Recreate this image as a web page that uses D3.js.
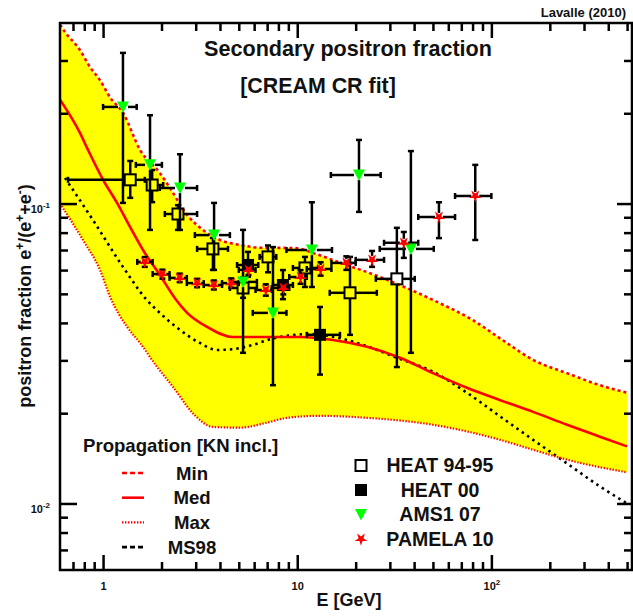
<!DOCTYPE html>
<html>
<head>
<meta charset="utf-8">
<script src="https://cdn.jsdelivr.net/npm/d3@7"></script>
<style>
  body { margin: 0; background: #fff; }
  text { font-family: "Liberation Sans", Arial, sans-serif; font-weight: bold; fill: #111; }
</style>
</head>
<body>
<svg id="chart" width="633" height="616"></svg>
<script>
// ---- model curves [E (GeV), positron fraction] ----
const minCurve = [[0.6,0.395],[0.637,0.373],[0.76,0.325],[0.857,0.285],[0.964,0.258],[1.086,0.226],
  [1.27,0.20],[1.55,0.151],[1.96,0.1265],[2.21,0.1127],[2.71,0.0916],[3.27,0.0817],[4.0,0.0756],
  [5.07,0.0728],[6.5,0.0712],[9.6,0.0711],[12.8,0.0675],[16.2,0.0639],[26.7,0.0569],[50,0.0477],
  [80,0.0409],[120,0.0343],[164,0.0301],[245,0.0272],[362,0.0248],[500,0.0234]];
const medCurve = [[0.6,0.222],[0.76,0.172],[0.836,0.151],[1.0,0.120],[1.18,0.1005],[1.376,0.0836],
  [1.605,0.070],[1.96,0.0578],[2.38,0.0477],[2.71,0.0432],[3.43,0.0388],[4.67,0.0359],[6.98,0.0359],
  [10.3,0.0359],[15.3,0.0351],[22.9,0.0333],[33.8,0.0306],[50,0.0272],[74.8,0.0243],[111,0.0221],
  [164,0.0202],[245,0.0183],[362,0.0167],[500,0.0155]];
const maxCurve = [[0.6,0.100],[0.788,0.0756],[0.964,0.0601],[1.086,0.0489],[1.33,0.0388],[1.55,0.0343],
  [1.90,0.0285],[2.29,0.0245],[2.90,0.0200],[3.68,0.0180],[5.07,0.0179],[6.98,0.0186],[8.85,0.0193],
  [13.1,0.0196],[22.9,0.0193],[50,0.0183],[111,0.0163],[164,0.0151],[245,0.0140],[500,0.0127]];
const ms98Curve = [[0.637,0.1217],[0.887,0.0881],[1.266,0.0615],[1.68,0.0477],[1.96,0.0432],[2.49,0.0379],
  [3.15,0.0343],[3.86,0.0325],[4.67,0.0327],[5.91,0.0338],[7.5,0.0355],[11.6,0.0367],[18,0.0351],
  [21.8,0.0338],[32.6,0.0306],[50,0.0275],[74.8,0.0234],[111,0.0195],[164,0.0163],[245,0.0136],
  [362,0.0114],[500,0.010]];

// ---- data points: e, bin low/high, fraction, error low/high ----
const heat9495 = [
  {e:1.38, elo:0.66, ehi:1.64, f:0.120, flo:0.1045, fhi:0.1387},
  {e:1.79, elo:1.68, ehi:2.04, f:0.1153, flo:0.1011, fhi:0.1294},
  {e:2.43, elo:2.08, ehi:3.05, f:0.0923, flo:0.0817, fhi:0.0988},
  {e:3.68, elo:3.05, ehi:4.40, f:0.0706, flo:0.0601, fhi:0.0768},
  {e:5.26, elo:4.5, ehi:6.2, f:0.0523, flo:0.0485, fhi:0.0567},
  {e:7.07, elo:6.4, ehi:7.8, f:0.0664, flo:0.0590, fhi:0.0725},
  {e:10.96, elo:9.5, ehi:12.8, f:0.0610, flo:0.0527, fhi:0.0664},
  {e:18.7, elo:14.7, ehi:25.7, f:0.0504, flo:0.0365, fhi:0.0664},
  {e:32.6, elo:25.4, ehi:40.3, f:0.0561, flo:0.0285, fhi:0.083}
];
const heat00 = [
  {e:5.58, elo:4.9, ehi:6.3, f:0.0624, flo:0.057, fhi:0.069},
  {e:8.44, elo:7.5, ehi:9.5, f:0.0535, flo:0.048, fhi:0.060},
  {e:13.1, elo:11.2, ehi:16.6, f:0.0365, flo:0.0269, fhi:0.0452}
];
const ams07 = [
  {e:1.266, elo:1.0, ehi:1.49, f:0.210, flo:0.1005, fhi:0.318},
  {e:1.745, elo:1.475, ehi:2.01, f:0.1346, flo:0.0817, fhi:0.197},
  {e:2.49, elo:1.96, ehi:3.05, f:0.1127, flo:0.0817, fhi:0.146},
  {e:3.73, elo:2.97, ehi:4.5, f:0.0785, flo:0.0601, fhi:0.1005},
  {e:5.26, elo:4.55, ehi:6.2, f:0.0548, flo:0.0318, fhi:0.0817},
  {e:7.5, elo:5.9, ehi:8.8, f:0.0432, flo:0.0248, fhi:0.0716},
  {e:11.9, elo:8.8, ehi:15.1, f:0.070, flo:0.0527, fhi:0.101},
  {e:20.8, elo:14.9, ehi:26.9, f:0.1245, flo:0.0938, fhi:0.163},
  {e:38.5, elo:26.6, ehi:50.5, f:0.0706, flo:0.0318, fhi:0.1496}
];
const pamela10 = [
  {e:1.64, elo:1.5, ehi:1.8, f:0.0639, flo:0.0615, fhi:0.0663},
  {e:2.02, elo:1.8, ehi:2.2, f:0.0582, flo:0.0562, fhi:0.0602},
  {e:2.48, elo:2.2, ehi:2.7, f:0.0565, flo:0.0547, fhi:0.0584},
  {e:3.05, elo:2.7, ehi:3.3, f:0.0543, flo:0.0526, fhi:0.0561},
  {e:3.72, elo:3.3, ehi:4.1, f:0.0535, flo:0.0517, fhi:0.0554},
  {e:4.57, elo:4.1, ehi:5.0, f:0.0543, flo:0.0524, fhi:0.0563},
  {e:5.61, elo:5.0, ehi:6.1, f:0.0601, flo:0.0578, fhi:0.0625},
  {e:6.89, elo:6.1, ehi:7.4, f:0.0515, flo:0.0493, fhi:0.0538},
  {e:8.48, elo:7.4, ehi:9.1, f:0.0523, flo:0.0498, fhi:0.0549},
  {e:10.4, elo:9.1, ehi:11.2, f:0.0569, flo:0.0540, fhi:0.0600},
  {e:13.2, elo:11.2, ehi:15.0, f:0.0605, flo:0.0575, fhi:0.0637},
  {e:17.9, elo:15.0, ehi:20.0, f:0.0634, flo:0.0601, fhi:0.0667},
  {e:24.3, elo:20.0, ehi:28.0, f:0.0649, flo:0.0615, fhi:0.0695},
  {e:35.4, elo:28.0, ehi:42.0, f:0.0740, flo:0.0659, fhi:0.0804},
  {e:53.7, elo:42.0, ehi:65.0, f:0.0902, flo:0.0767, fhi:0.101},
  {e:82.6, elo:65.0, ehi:100.0, f:0.106, flo:0.0756, fhi:0.1346}
];

// ---- axis ticks ----
const xMajor = [1, 10, 100];
const xMinor = [0.7, 0.8, 0.9, 2, 3, 4, 5, 6, 7, 8, 9, 20, 30, 40, 50, 60, 70, 80, 90, 200, 300, 400, 500];
const yMajor = [0.01, 0.1];
const yMinor = [0.007, 0.008, 0.009, 0.02, 0.03, 0.04, 0.05, 0.06, 0.07, 0.08, 0.09, 0.2, 0.3];

const propLegend = ["Min", "Med", "Max", "MS98"];
const dataLegend = ["HEAT 94-95", "HEAT 00", "AMS1 07", "PAMELA 10"];

// ---- layout ----
const frameL = 60, frameR = 632, frameT = 23, frameB = 570;
const svg = d3.select("#chart");

const x = d3.scaleLog().domain([0.6, 530]).range([frameL, frameR]);
const y = d3.scaleLog().domain([0.006, 0.4]).range([frameB, frameT]);

svg.append("clipPath").attr("id", "plotclip")
  .append("rect").attr("x", frameL).attr("y", frameT)
  .attr("width", frameR - frameL).attr("height", frameB - frameT);

const plot = svg.append("g").attr("clip-path", "url(#plotclip)");

const line = d3.line()
  .x(d => x(d[0]))
  .y(d => y(d[1]))
  .curve(d3.curveMonotoneX);

// yellow band between Min and Max
const upperPath = line(minCurve);
const lowerPath = line(maxCurve.slice().reverse());
plot.append("path")
  .attr("d", upperPath + "L" + lowerPath.slice(1) + "Z")
  .attr("fill", "#ffff00")
  .attr("stroke", "none");

const styles = {
  Min:  {stroke: "#ff0000", width: 2.6, dash: "3,3", data: minCurve},
  Med:  {stroke: "#ff0000", width: 2.6, dash: null, data: medCurve},
  Max:  {stroke: "#ff0000", width: 2.2, dash: "1.4,1.6", data: maxCurve},
  MS98: {stroke: "#000000", width: 2.6, dash: "2.5,4", data: ms98Curve}
};

["MS98", "Max", "Min", "Med"].forEach(k => {
  const s = styles[k];
  plot.append("path")
    .attr("d", line(s.data))
    .attr("fill", "none")
    .attr("stroke", s.stroke)
    .attr("stroke-width", s.width)
    .attr("stroke-dasharray", s.dash);
});

// ---- markers ----
const markers = {
  "HEAT 94-95": {gap: 6, draw: (g, fill) => g.append("rect").attr("x", -5.5).attr("y", -5.5)
      .attr("width", 11).attr("height", 11).attr("fill", fill).attr("stroke", "#000").attr("stroke-width", 2)},
  "HEAT 00": {gap: 5, draw: g => g.append("rect").attr("x", -6).attr("y", -6)
      .attr("width", 12).attr("height", 12).attr("fill", "#000")},
  "AMS1 07": {gap: 5, draw: g => g.append("path").attr("d", "M-6,-5.5L6,-5.5L0,6Z").attr("fill", "#00ff00")},
  "PAMELA 10": {gap: 4, draw: g => g.append("path").attr("d", d3.symbol(d3.symbolStar, 50)())
      .attr("transform", "rotate(180)").attr("fill", "#ff0000")}
};

function drawErrors(data, name) {
  const m = markers[name];
  const grp = plot.append("g");
  data.forEach(d => {
    const cx = x(d.e), cy = y(d.f), gap = m.gap, cap = 3;
    const segs = [];
    const x0 = x(d.elo), x1 = x(d.ehi), y0 = y(d.fhi), y1 = y(d.flo);
    if (cx - x0 > gap) segs.push([x0, cy, cx - gap, cy], [x0, cy - cap, x0, cy + cap]);
    if (x1 - cx > gap) segs.push([cx + gap, cy, x1, cy], [x1, cy - cap, x1, cy + cap]);
    if (cy - y0 > gap) segs.push([cx, y0, cx, cy - gap], [cx - cap, y0, cx + cap, y0]);
    if (y1 - cy > gap) segs.push([cx, cy + gap, cx, y1], [cx - cap, y1, cx + cap, y1]);
    grp.selectAll(null).data(segs).join("line")
      .attr("x1", s => s[0]).attr("y1", s => s[1])
      .attr("x2", s => s[2]).attr("y2", s => s[3])
      .attr("stroke", "#000").attr("stroke-width", 2.5);
  });
}

function drawMarkers(data, name) {
  const m = markers[name];
  data.forEach(d => {
    const g = plot.append("g").attr("transform", `translate(${x(d.e)},${y(d.f)})`);
    m.draw(g, "none");
  });
}

const sets = [[heat9495, "HEAT 94-95"], [heat00, "HEAT 00"], [ams07, "AMS1 07"], [pamela10, "PAMELA 10"]];
sets.forEach(([d, n]) => drawErrors(d, n));
sets.forEach(([d, n]) => drawMarkers(d, n));

// ---- axes ----
function supText(t, exp) {
  t.text("10");
  t.append("tspan").attr("dy", -5).attr("font-size", 8).text(exp);
}

function axis(fn, scale, values, size, tx, ty, pad, labelled) {
  const g = svg.append("g").attr("transform", `translate(${tx},${ty})`)
    .call(fn(scale).tickValues(values).tickSize(-size).tickSizeOuter(0)
      .tickPadding(pad).tickFormat(labelled ? d => d : ""));
  g.select(".domain").remove();
  g.selectAll(".tick line").attr("stroke", "#000").attr("stroke-width", 2.5);
  g.attr("font-family", null).attr("font-size", 11);
  return g;
}

const xb = axis(d3.axisBottom, x, xMajor, 15, 0, frameB, 12, true);
xb.selectAll(".tick text").each(function(d) {
  const t = d3.select(this);
  if (d >= 100) supText(t, Math.round(Math.log10(d)));
  else t.text(d3.format("d")(d));
});
axis(d3.axisBottom, x, xMinor, 8, 0, frameB, 0, false);
axis(d3.axisTop, x, xMajor, 15, 0, frameT, 0, false);
axis(d3.axisTop, x, xMinor, 8, 0, frameT, 0, false);

const yl = axis(d3.axisLeft, y, yMajor, 17, frameL, 0, 10, true);
yl.selectAll(".tick text").attr("dy", "0.8em").each(function(d) {
  supText(d3.select(this), "-" + Math.round(-Math.log10(d)));
});
axis(d3.axisLeft, y, yMinor, 8, frameL, 0, 0, false);
axis(d3.axisRight, y, yMajor, 15, frameR, 0, 0, false);
axis(d3.axisRight, y, yMinor, 8, frameR, 0, 0, false);

svg.append("rect")
  .attr("x", frameL).attr("y", frameT)
  .attr("width", frameR - frameL).attr("height", frameB - frameT)
  .attr("fill", "none").attr("stroke", "#000").attr("stroke-width", 2.5);

// ---- titles ----
svg.append("text").attr("x", 626).attr("y", 17).attr("text-anchor", "end")
  .attr("font-size", 13).text("Lavalle (2010)");
svg.append("text").attr("x", 348).attr("y", 56).attr("text-anchor", "middle")
  .attr("font-size", 21.6).text("Secondary positron fraction");
svg.append("text").attr("x", 318).attr("y", 93).attr("text-anchor", "middle")
  .attr("font-size", 21.4).text("[CREAM CR fit]");

svg.append("text").attr("x", 349).attr("y", 606).attr("text-anchor", "middle")
  .attr("font-size", 18).text("E [GeV]");

const yt = svg.append("text")
  .attr("transform", "translate(31,296) rotate(-90)")
  .attr("text-anchor", "middle").attr("font-size", 18);
yt.append("tspan").text("positron fraction e");
yt.append("tspan").attr("dy", -7).attr("font-size", 12).text("+");
yt.append("tspan").attr("dy", 7).text("/(e");
yt.append("tspan").attr("dy", -7).attr("font-size", 12).text("+");
yt.append("tspan").attr("dy", 7).text("+e");
yt.append("tspan").attr("dy", -7).attr("font-size", 12).text("-");
yt.append("tspan").attr("dy", 7).text(")");

// ---- legends ----
svg.append("text").attr("x", 83).attr("y", 452).attr("font-size", 18.6).text("Propagation [KN incl.]");
const pl = svg.append("g").selectAll("g").data(propLegend).join("g")
  .attr("transform", (d, i) => `translate(0,${473 + i * 24.7})`);
pl.append("line").attr("x1", 122).attr("x2", 144).attr("y1", 0).attr("y2", 0)
  .attr("stroke", d => styles[d].stroke)
  .attr("stroke-width", d => styles[d].width)
  .attr("stroke-dasharray", d => d === "Min" || d === "MS98" ? "5,3" : styles[d].dash);
pl.append("text").attr("x", 192).attr("y", 6.5).attr("text-anchor", "middle")
  .attr("font-size", 18.6).text(d => d);

const dl = svg.append("g").selectAll("g").data(dataLegend).join("g")
  .attr("transform", (d, i) => `translate(0,${465.5 + i * 24.5})`);
dl.each(function(d) {
  const g = d3.select(this).append("g").attr("transform", "translate(361,0)");
  markers[d].draw(g, "#fff");
});
dl.append("text").attr("x", 440).attr("y", 6.5).attr("text-anchor", "middle")
  .attr("font-size", 19.5).text(d => d);
</script>
</body>
</html>
